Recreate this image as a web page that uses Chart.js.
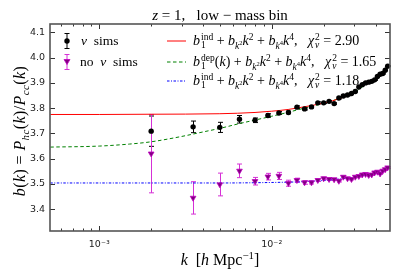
<!DOCTYPE html>
<html>
<head>
<meta charset="utf-8">
<script src="https://cdn.jsdelivr.net/npm/chart.js@4.4.0/dist/chart.umd.min.js"></script>
<style>
  html, body { margin: 0; padding: 0; background: #fff; }
  #wrap { position: relative; width: 399px; height: 279px; font-family: "Liberation Serif", serif; color: #000; }
  #wrap canvas { position: absolute; left: 0; top: 0; }
  .lbl { position: absolute; white-space: nowrap; line-height: 1; }
  .row { position: absolute; height: 18px; display: flex; align-items: center; white-space: nowrap; font-size: 14px; }
  .ss { display: inline-flex; flex-direction: column; font-size: 0.68em; line-height: 0.85; vertical-align: 0.55em; margin-left: 1px; }
  sub, sup { font-size: 0.68em; line-height: 0; }
</style>
</head>
<body>
<div id="wrap">
  <canvas id="biasChart" width="399" height="279"></canvas>

  <div class="lbl" style="left:220px; top:8px; font-size:15px; transform:translateX(-50%);"><i>z</i> = 1,&nbsp;&nbsp; low − mass bin</div>

  <div class="lbl" style="left:20px; top:131px; font-size:16px; letter-spacing:0.4px; transform:translate(-50%,-50%) rotate(-90deg);"><i>b</i>(<i>k</i>) = <i>P</i><sub><i>hc</i></sub>(<i>k</i>)/<i>P</i><sub><i>cc</i></sub>(<i>k</i>)</div>

  <div class="lbl" style="left:220px; top:252px; font-size:16px; transform:translateX(-50%);"><i>k</i>&nbsp;&nbsp;[<i>h</i> Mpc<sup>−1</sup>]</div>

  <!-- legend, left column -->
  <div class="row" style="left:61px; top:32px; font-size:13.5px;">
    <svg width="12" height="18"><line x1="6" y1="1.5" x2="6" y2="16.5" stroke="#000"/><line x1="3.5" y1="1.5" x2="8.5" y2="1.5" stroke="#000"/><line x1="3.5" y1="16.5" x2="8.5" y2="16.5" stroke="#000"/><circle cx="6" cy="9" r="2.7" fill="#000"/></svg>
    <span style="margin-left:8px;"><i>ν</i>&nbsp; sims</span>
  </div>
  <div class="row" style="left:61px; top:53px; font-size:13.5px;">
    <svg width="12" height="18"><line x1="6" y1="1.5" x2="6" y2="16.5" stroke="#d630d6"/><line x1="3.5" y1="1.5" x2="8.5" y2="1.5" stroke="#d630d6"/><line x1="3.5" y1="16.5" x2="8.5" y2="16.5" stroke="#d630d6"/><polygon points="3,6.5 9,6.5 6,11.5" fill="#800080" stroke="#c000c0" stroke-width="0.8"/></svg>
    <span style="margin-left:7px;">no&nbsp; <i>ν</i>&nbsp; sims</span>
  </div>

  <!-- legend, right column -->
  <div class="row" style="left:167px; top:32px;">
    <svg width="20" height="18"><line x1="0" y1="9" x2="19" y2="9" stroke="#ff0000" stroke-width="1"/></svg>
    <span style="margin-left:6px;"><i>b</i><span class="ss"><span>ind</span><span>1</span></span> + <i>b</i><sub><i>k</i><sup>2</sup></sub><i>k</i><sup>2</sup> + <i>b</i><sub><i>k</i><sup>4</sup></sub><i>k</i><sup>4</sup>,&nbsp;&nbsp; <i>χ</i><span class="ss"><span>2</span><span><i>ν</i></span></span> = 2.90</span>
  </div>
  <div class="row" style="left:167px; top:53px;">
    <svg width="20" height="18"><line x1="0" y1="9" x2="19" y2="9" stroke="#008000" stroke-width="1" stroke-dasharray="3.5,2.5"/></svg>
    <span style="margin-left:6px;"><i>b</i><span class="ss"><span>dep</span><span>1</span></span>(<i>k</i>) + <i>b</i><sub><i>k</i><sup>2</sup></sub><i>k</i><sup>2</sup> + <i>b</i><sub><i>k</i><sup>4</sup></sub><i>k</i><sup>4</sup>,&nbsp;&nbsp; <i>χ</i><span class="ss"><span>2</span><span><i>ν</i></span></span> = 1.65</span>
  </div>
  <div class="row" style="left:167px; top:72px;">
    <svg width="20" height="18"><line x1="0" y1="9" x2="19" y2="9" stroke="#0000ff" stroke-width="1" stroke-dasharray="2.5,1.5,1,1.5"/></svg>
    <span style="margin-left:6px;"><i>b</i><span class="ss"><span>ind</span><span>1</span></span> + <i>b</i><sub><i>k</i><sup>2</sup></sub><i>k</i><sup>2</sup> + <i>b</i><sub><i>k</i><sup>4</sup></sub><i>k</i><sup>4</sup>,&nbsp;&nbsp; <i>χ</i><span class="ss"><span>2</span><span><i>ν</i></span></span> = 1.18</span>
  </div>
</div>

<script>
// measured k bins (h/Mpc)
const kValues = [0.002, 0.0035, 0.005, 0.0065, 0.008, 0.0095, 0.011, 0.0125, 0.014, 0.0155,
  0.017, 0.0185, 0.02, 0.0215, 0.023, 0.0245, 0.026, 0.0275, 0.029, 0.0305,
  0.032, 0.0335, 0.035, 0.0365, 0.038, 0.0395, 0.041, 0.0425, 0.044, 0.0455, 0.047];

// nu sims
const biasNu = [3.709, 3.726, 3.724, 3.756, 3.752, 3.771, 3.781, 3.783, 3.804, 3.797,
  3.805, 3.821, 3.821, 3.827, 3.818, 3.840, 3.848, 3.852, 3.858, 3.866,
  3.884, 3.893, 3.900, 3.903, 3.906, 3.912, 3.925, 3.934, 3.937, 3.950, 3.966];
const errNu = [0.06, 0.023, 0.02, 0.015, 0.009, 0.007, 0.006, 0.005, 0.005, 0.004,
  0.004, 0.004, 0.003, 0.003, 0.003, 0.003, 0.003, 0.003, 0.002, 0.002,
  0.002, 0.002, 0.002, 0.002, 0.002, 0.002, 0.002, 0.002, 0.002, 0.002, 0.002];

// no nu sims
const biasNoNu = [3.62, 3.445, 3.498, 3.552, 3.511, 3.529, 3.532, 3.503, 3.515, 3.506,
  3.506, 3.515, 3.522, 3.519, 3.518, 3.512, 3.528, 3.522, 3.519, 3.528,
  3.531, 3.537, 3.539, 3.535, 3.537, 3.545, 3.548, 3.541, 3.552, 3.558, 3.565];
const errNoNu = [0.155, 0.064, 0.045, 0.027, 0.015, 0.013, 0.014, 0.012, 0.008, 0.007,
  0.006, 0.005, 0.005, 0.004, 0.004, 0.004, 0.004, 0.003, 0.003, 0.003,
  0.003, 0.003, 0.003, 0.003, 0.003, 0.003, 0.003, 0.003, 0.003, 0.003, 0.003];

// fit curves
const fitIndK = [0.00052, 0.001, 0.002, 0.005, 0.008, 0.01, 0.0125, 0.015, 0.0175, 0.02, 0.0225, 0.025, 0.0275, 0.03];
const fitInd = [3.775, 3.775, 3.776, 3.778, 3.783, 3.788, 3.795, 3.804, 3.812, 3.820, 3.829, 3.839, 3.850, 3.862];

const fitDepK = [0.00052, 0.001, 0.0015, 0.002, 0.003, 0.004, 0.005, 0.0065, 0.008, 0.01,
  0.0125, 0.015, 0.0175, 0.02, 0.025, 0.03, 0.035, 0.04, 0.045, 0.0485];
const fitDep = [3.646, 3.650, 3.658, 3.667, 3.688, 3.706, 3.720, 3.739, 3.753, 3.768,
  3.784, 3.798, 3.809, 3.819, 3.840, 3.862, 3.893, 3.918, 3.946, 3.972];

const fitNoNuK = [0.00052, 0.005, 0.01, 0.015, 0.02, 0.025, 0.03, 0.035, 0.04, 0.045, 0.0485];
const fitNoNu = [3.504, 3.504, 3.506, 3.509, 3.514, 3.520, 3.527, 3.535, 3.544, 3.555, 3.563];

// axis ticks
const xTickValues = [6e-4, 7e-4, 8e-4, 9e-4, 1e-3, 2e-3, 3e-3, 4e-3, 5e-3, 6e-3, 7e-3, 8e-3, 9e-3,
  1e-2, 2e-2, 3e-2, 4e-2];
const xTickLabels = { "0.001": "10\u207B\u00B3", "0.01": "10\u207B\u00B2" };
const yTickValues = [3.4, 3.5, 3.6, 3.7, 3.8, 3.9, 4.0, 4.1];

const pts = (xs, ys) => xs.map((x, i) => ({ x: x, y: ys[i] }));
const isDecade = (v) => Math.abs(Math.log10(v) - Math.round(Math.log10(v))) < 1e-6;

// error bars under the markers
const errorBars = {
  id: "errorBars",
  beforeDatasetsDraw(chart) {
    const { ctx, scales: { y } } = chart;
    chart.data.datasets.forEach((ds, i) => {
      if (!ds.errors) return;
      const meta = chart.getDatasetMeta(i);
      ctx.save();
      ctx.strokeStyle = ds.errorColor;
      ctx.lineWidth = 1;
      meta.data.forEach((el, j) => {
        const v = ds.data[j].y, e = ds.errors[j];
        const x = Math.round(el.x) + 0.5;
        const top = y.getPixelForValue(v + e), bot = y.getPixelForValue(v - e);
        ctx.beginPath();
        ctx.moveTo(x, top); ctx.lineTo(x, bot);
        ctx.moveTo(x - 2.5, top); ctx.lineTo(x + 2.5, top);
        ctx.moveTo(x - 2.5, bot); ctx.lineTo(x + 2.5, bot);
        ctx.stroke();
      });
      ctx.restore();
    });
  }
};

// frame plus inward ticks on all four sides
const frameTicks = {
  id: "frameTicks",
  afterDraw(chart) {
    const { ctx, chartArea: a, scales: { x, y } } = chart;
    ctx.save();
    ctx.strokeStyle = "#333";
    ctx.lineWidth = 1;
    ctx.beginPath();
    x.ticks.forEach((t) => {
      const px = Math.round(x.getPixelForValue(t.value)) + 0.5;
      const len = isDecade(t.value) ? 5 : 2.5;
      ctx.moveTo(px, a.bottom); ctx.lineTo(px, a.bottom - len);
      ctx.moveTo(px, a.top); ctx.lineTo(px, a.top + len);
    });
    y.ticks.forEach((t) => {
      const py = Math.round(y.getPixelForValue(t.value)) + 0.5;
      ctx.moveTo(a.left, py); ctx.lineTo(a.left + 5, py);
      ctx.moveTo(a.right, py); ctx.lineTo(a.right - 5, py);
    });
    ctx.stroke();
    ctx.strokeStyle = "#555";
    ctx.lineWidth = 1.6;
    ctx.strokeRect(a.left, a.top, a.right - a.left, a.bottom - a.top);
    ctx.restore();
  }
};

const ctx = document.getElementById("biasChart");
// eslint-disable-next-line no-unused-vars
const myChart = new Chart(ctx, {
  type: "scatter",
  data: {
    datasets: [
      {
        label: "nu sims",
        data: pts(kValues, biasNu),
        errors: errNu,
        errorColor: "#000",
        pointStyle: "circle",
        pointRadius: 2.7,
        backgroundColor: "#000",
        borderColor: "#000",
        borderWidth: 0,
        order: 0,
      },
      {
        label: "no nu sims",
        data: pts(kValues, biasNoNu),
        errors: errNoNu,
        errorColor: "#d630d6",
        pointStyle: "triangle",
        rotation: 180,
        pointRadius: 3.3,
        backgroundColor: "#800080",
        borderColor: "#c000c0",
        borderWidth: 0.8,
        order: 1,
      },
      {
        type: "line",
        label: "ind",
        data: pts(fitIndK, fitInd),
        borderColor: "#ff0000",
        borderWidth: 1,
        pointRadius: 0,
        cubicInterpolationMode: "monotone",
        order: 2,
      },
      {
        type: "line",
        label: "dep",
        data: pts(fitDepK, fitDep),
        borderColor: "#008000",
        borderWidth: 1,
        borderDash: [3.5, 2.5],
        pointRadius: 0,
        cubicInterpolationMode: "monotone",
        order: 3,
      },
      {
        type: "line",
        label: "ind no nu",
        data: pts(fitNoNuK, fitNoNu),
        borderColor: "#0000ff",
        borderWidth: 1,
        borderDash: [2.5, 1.5, 1, 1.5],
        pointRadius: 0,
        cubicInterpolationMode: "monotone",
        order: 4,
      },
    ],
  },
  options: {
    responsive: false,
    animation: false,
    events: [],
    layout: { padding: { top: 24, right: 9, left: 0, bottom: 0 } },
    plugins: {
      legend: { display: false },
      tooltip: { enabled: false },
    },
    scales: {
      x: {
        type: "logarithmic",
        min: 5.18e-4,
        max: 0.0485,
        grid: { display: false, drawTicks: false },
        border: { display: false },
        afterBuildTicks: (axis) => { axis.ticks = xTickValues.map((v) => ({ value: v })); },
        afterFit: (axis) => { axis.height = 48; },
        ticks: {
          autoSkip: false,
          maxRotation: 0,
          padding: 8,
          color: "#222",
          font: { family: "DejaVu Sans", size: 9.5 },
          callback: (v) => xTickLabels[String(+v.toPrecision(3))] || "",
        },
      },
      y: {
        min: 3.314,
        max: 4.133,
        grid: { display: false, drawTicks: false },
        border: { display: false },
        afterBuildTicks: (axis) => { axis.ticks = yTickValues.map((v) => ({ value: v })); },
        afterFit: (axis) => { axis.width = 50; },
        ticks: {
          padding: 5,
          color: "#222",
          font: { family: "DejaVu Sans", size: 9.5 },
          callback: (v) => Number(v).toFixed(1),
        },
      },
    },
  },
  plugins: [errorBars, frameTicks],
});
</script>
</body>
</html>
